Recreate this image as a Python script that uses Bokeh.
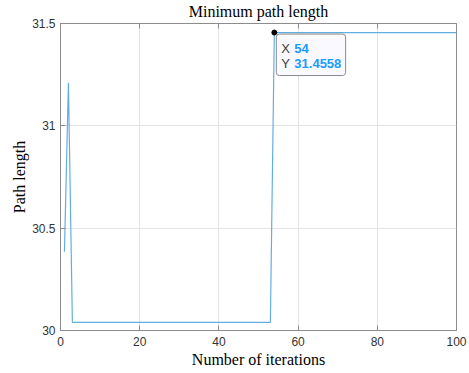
from bokeh.plotting import figure
from bokeh.models import Range1d, LinearAxis, Label, FixedTicker
from bokeh.embed import file_html
from bokeh.resources import INLINE

# Best path length per iteration (points where the value changes; flat in between)
iterations = [1, 2, 3, 53, 54, 100]
path_length = [30.385, 31.21, 30.04, 30.04, 31.4558, 31.4558]

x_ticks = [0, 20, 40, 60, 80, 100]
y_ticks = [30, 30.5, 31, 31.5]
y_tick_labels = {30: "30", 30.5: "30.5", 31: "31", 31.5: "31.5"}

tip_x, tip_y = 54, 31.4558

SERIF = "Liberation Serif"
SANS = "Liberation Sans"
AXIS_GREY = "#8c8c8c"
TIP_BG = "#f9f9ff"

p = figure(width=469, height=373, output_backend="svg", toolbar_location=None,
           x_range=Range1d(0, 100), y_range=Range1d(30, 31.5),
           min_border_left=60, min_border_right=13, min_border_top=23, min_border_bottom=43,
           title="Minimum path length")
p.title.align = "center"
p.title.vertical_align = "top"
p.title.text_font = SERIF
p.title.text_font_size = "16px"
p.title.text_font_style = "normal"
p.title.text_color = "black"
p.title.standoff = 3
p.title.offset = 0

p.background_fill_color = "white"
p.border_fill_color = "white"
p.outline_line_color = AXIS_GREY
p.outline_line_width = 1

for ax in (p.xaxis[0], p.yaxis[0]):
    ax.axis_line_color = AXIS_GREY
    ax.major_tick_line_color = AXIS_GREY
    ax.major_tick_in = 5
    ax.major_tick_out = 0
    ax.minor_tick_line_color = None
    ax.major_label_text_font = SANS
    ax.major_label_text_font_size = "12px"
    ax.major_label_text_color = "#333333"
    ax.axis_label_text_font = SERIF
    ax.axis_label_text_font_style = "normal"
    ax.axis_label_text_font_size = "16px"
    ax.axis_label_text_color = "black"

p.xaxis.ticker = FixedTicker(ticks=x_ticks)
p.yaxis.ticker = FixedTicker(ticks=y_ticks)
p.yaxis.major_label_overrides = y_tick_labels
p.xaxis.axis_label = "Number of iterations"
p.yaxis.axis_label = "Path length"
p.xaxis.major_label_standoff = 6
p.xaxis.axis_label_standoff = 2
p.yaxis.major_label_standoff = 5
p.yaxis.axis_label_standoff = 1

# tick marks on the top edge of the box (no labels)
top = LinearAxis(ticker=FixedTicker(ticks=x_ticks), major_tick_in=5, major_tick_out=0,
                 minor_tick_line_color=None, axis_line_color=AXIS_GREY,
                 major_tick_line_color=AXIS_GREY,
                 major_label_overrides={t: "" for t in x_ticks},
                 major_label_standoff=0)
p.add_layout(top, "above")

p.xgrid.ticker = FixedTicker(ticks=x_ticks)
p.ygrid.ticker = FixedTicker(ticks=y_ticks)
p.grid.grid_line_color = "#e3e3e3"
p.grid.grid_line_width = 1

p.line(iterations, path_length, line_color="#62aee3", line_width=1.2)

# data tip: box, marker, then the X / Y readout
p.add_layout(Label(x=tip_x, y=tip_y, x_offset=2, y_offset=-43,
                   text="X 54\nY 31.4558", text_font=SANS, text_font_size="13px",
                   text_font_style="bold", text_color=TIP_BG, text_line_height=1.1,
                   padding=5, background_fill_color=TIP_BG,
                   border_line_color="#8a8a8a", border_line_width=1,
                   border_radius=3))
p.scatter([tip_x], [tip_y], size=5, color="black")
for txt, dx, dy, col, style in [("X", 7, -16, "#404040", "normal"),
                                ("Y", 7, -31, "#404040", "normal"),
                                (str(tip_x), 20, -16, "#1a9cff", "bold"),
                                (f"{tip_y:.4f}", 20, -31, "#1a9cff", "bold")]:
    p.add_layout(Label(x=tip_x, y=tip_y, x_offset=dx, y_offset=dy, text=txt,
                       text_font=SANS, text_font_size="13px", text_font_style=style,
                       text_color=col, text_baseline="middle"))

open("out.html", "w").write(file_html(p, INLINE))
